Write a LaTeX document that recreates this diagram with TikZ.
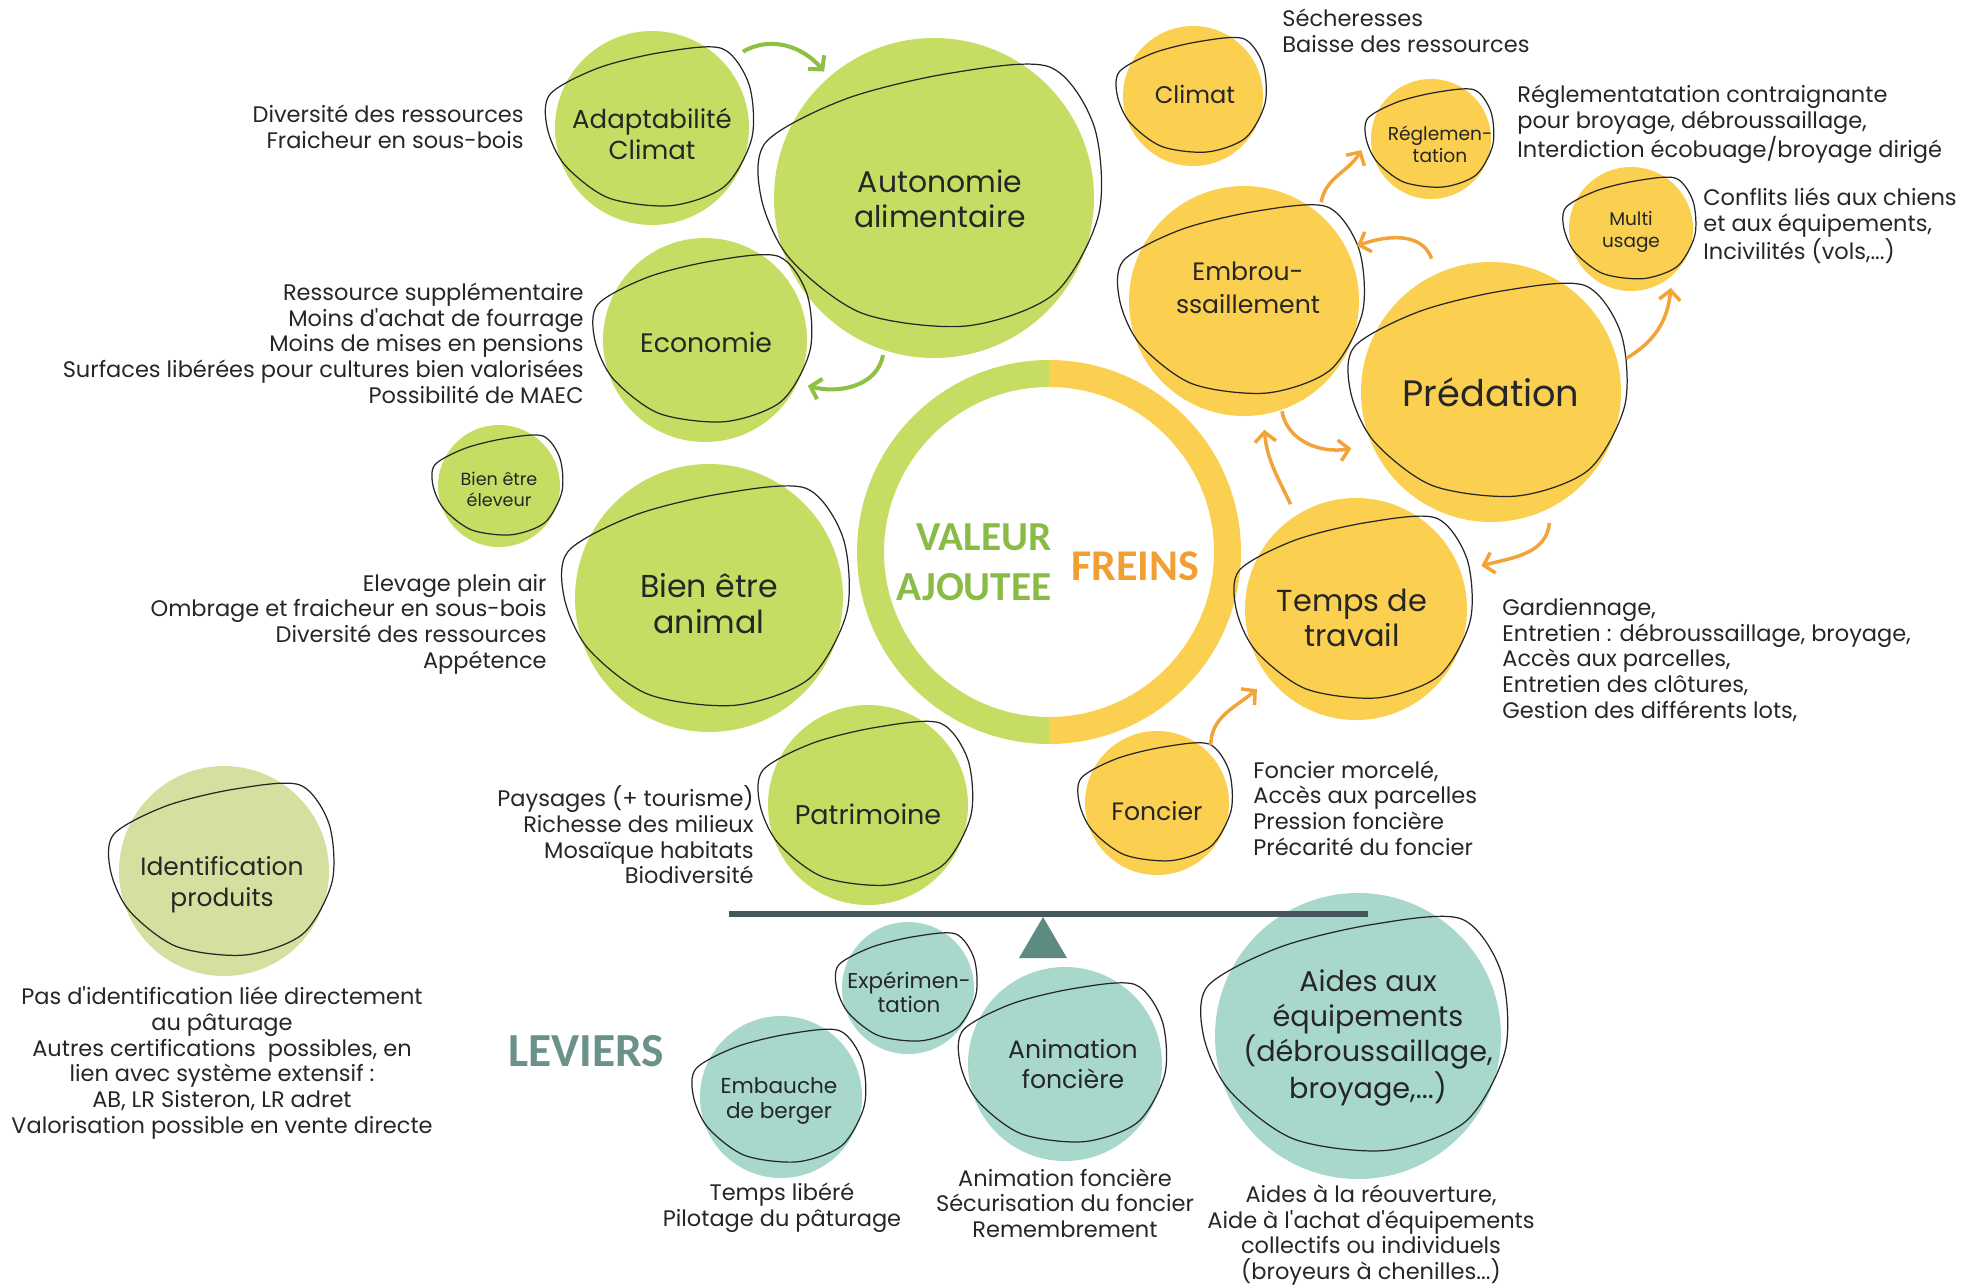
\documentclass[tikz,border=0pt]{standalone}
\usepackage{fontspec}
\setmainfont{Poppins}[Ligatures=TeXOff]
\newfontfamily\headfont{Carlito}
\usetikzlibrary{arrows.meta,calc}
\definecolor{gfill}{HTML}{C6DD63}
\definecolor{yfill}{HTML}{FBCF4F}
\definecolor{tfill}{HTML}{A7D8CB}
\definecolor{idfill}{HTML}{D4DFA0}
\definecolor{garr}{HTML}{8EC044}
\definecolor{oarr}{HTML}{F2A43A}
\definecolor{vtxt}{HTML}{8BBB47}
\definecolor{ftxt}{HTML}{EF9F33}
\definecolor{ltxt}{HTML}{6A918A}
\definecolor{barc}{HTML}{46585E}
\definecolor{tric}{HTML}{5E8B81}
\definecolor{txt}{HTML}{262626}
\newcommand\fsz[2]{\fontsize{#1}{#2}\selectfont}
\tikzset{
  outl/.style={draw=black!85, line width=0.7pt},
  bubble/.style={circle, inner sep=0pt},
  blabel/.style={align=center, text=txt, inner sep=0pt},
  lst/.style={text=txt, font=\fsz{12.8}{14.6}, inner sep=0pt},
  lstR/.style={lst, anchor=east, align=right},
  lstL/.style={lst, anchor=west, align=left},
  lstC/.style={lst, align=center},
  garrow/.style={draw=garr, line width=2.3pt, -{Straight Barb[length=5.5pt,width=12pt]}},
  oarrow/.style={draw=oarr, line width=2pt, -{Straight Barb[length=5.5pt,width=12pt]}},
  head/.style={inner sep=0pt},
}
% name, x, y, r, fill, fontsize, baselineskip, text offset (dx,dy), text
\newcommand\bub[9]{%
  \node[bubble, fill=#5, minimum size={2*#4*0.02cm}] (#1) at (#2,#3) {};
  \begin{scope}[shift={(#2,#3)}, scale=#4]
    \draw[outl] plot[smooth cycle] coordinates {(-1.05,-0.35) (-0.55,-0.62) (0.1,-0.78) (0.72,-0.82) (1.0,-0.45) (1.03,0.1) (0.75,0.6) (0.2,0.8) (-0.45,0.72) (-0.9,0.38) (-1.08,0.0)};
  \end{scope}
  \node[blabel, font=\fsz{#6}{#7}] (#1-t) at ($(#1.center)+(#8)$) {#9};}
\begin{document}
\begin{tikzpicture}[x=0.02cm, y=-0.02cm]
\useasboundingbox (0,0) rectangle (1981,1286);
% central ring
\coordinate (ring) at (1049,552);
\begin{scope}
  \clip (0,0) rectangle (1049,1286);
  \fill[gfill, even odd rule] (ring) circle[radius=192] (ring) circle[radius=165];
\end{scope}
\begin{scope}
  \clip (1049,0) rectangle (1981,1286);
  \fill[yfill, even odd rule] (ring) circle[radius=192] (ring) circle[radius=165];
\end{scope}
\node[head, font=\headfont\bfseries\fsz{23.5}{28.6}, text=vtxt, align=right, anchor=east] (valeur) at (1052,562) {VALEUR\\AJOUTEE};
\node[head, font=\headfont\bfseries\fsz{25}{30}, text=ftxt, anchor=base west] (freins) at (1071,580) {FREINS};
\node[head, font=\headfont\bfseries\fsz{27}{30}, text=ltxt, anchor=base west] (leviers) at (508,1066) {LEVIERS};

% green bubbles
\bub{adapt}{652}{128}{97}{gfill}{14.8}{17.5}{0,6}{Adaptabilité\\Climat}
\bub{auton}{934}{198}{160}{gfill}{17}{20}{6,1}{Autonomie\\alimentaire}
\bub{econ}{705}{340}{102}{gfill}{15.2}{17}{1,2}{Economie}
\bub{bee}{499}{486}{61}{gfill}{10}{12}{0,3}{Bien être\\éleveur}
\bub{bea}{709}{598}{134}{gfill}{18}{20.5}{0,6}{Bien être\\animal}
\bub{patr}{868}{805}{100}{gfill}{15.4}{17}{0,9}{Patrimoine}
\bub{ident}{224}{871}{105}{idfill}{14.2}{17.5}{-2,14}{Identification\\produits}
% yellow bubbles
\bub{climat}{1193}{96}{70}{yfill}{13.7}{16}{2,-2}{Climat}
\bub{regl}{1431}{139}{60}{yfill}{10.6}{12.5}{9,5}{Réglemen-\\tation}
\bub{embr}{1244}{301}{115}{yfill}{14.3}{19}{4,-13}{Embrou-\\ssaillement}
\bub{multi}{1631}{229}{62}{yfill}{10.5}{12.5}{0,3}{Multi\\usage}
\bub{pred}{1491}{392}{130}{yfill}{20.9}{23}{0,0}{Prédation}
\bub{temps}{1356}{609}{111}{yfill}{17.3}{19.8}{-4,9}{Temps de\\travail}
\bub{fonc}{1157}{803}{72}{yfill}{14.3}{16}{0,8}{Foncier}
% teal bubbles
\bub{exper}{908}{988}{66}{tfill}{12.2}{14}{1,4}{Expérimen-\\tation}
\bub{embau}{781}{1097}{81}{tfill}{12.3}{14.5}{-2,4}{Embauche\\de berger}
\bub{anim}{1065}{1064}{97}{tfill}{14.3}{17}{8,0}{Animation\\foncière}
\bub{aides}{1358}{1036}{143}{tfill}{16.3}{19.4}{10,2}{Aides aux\\équipements\\(débroussaillage,\\broyage,...)}

% balance
\coordinate (barL) at (729,914);
\coordinate (barR) at (1368,914);
\draw[barc, line width=3pt] (barL) -- (barR);
\fill[tric] (1043,917) -- (1067,958) -- (1019,958) -- cycle;

% lists
\node[lstR] (l1) at (524,127) {Diversité des ressources\\Fraicheur en sous-bois};
\node[lstR] (l2) at (584,343) {Ressource supplémentaire\\Moins d'achat de fourrage\\Moins de mises en pensions\\Surfaces libérées pour cultures bien valorisées\\Possibilité de MAEC};
\node[lstR] (l3) at (547,624) {Elevage plein air\\Ombrage et fraicheur en sous-bois\\Diversité des ressources\\Appétence};
\node[lstR] (l4) at (754,835) {Paysages (+ tourisme)\\Richesse des milieux\\Mosaïque habitats\\Biodiversité};
\node[lstL] (l5) at (1282,31) {Sécheresses\\Baisse des ressources};
\node[lstL] (l6) at (1517,124) {Réglementatation contraignante\\pour broyage, débroussaillage,\\Interdiction écobuage/broyage dirigé};
\node[lstL] (l7) at (1703,226) {Conflits liés aux chiens\\et aux équipements,\\Incivilités (vols,...)};
\node[lstL] (l8) at (1502,660) {Gardiennage,\\Entretien : débroussaillage, broyage,\\Accès aux parcelles,\\Entretien des clôtures,\\Gestion des différents lots,};
\node[lstL] (l9) at (1253,808) {Foncier morcelé,\\Accès aux parcelles\\Pression foncière\\Précarité du foncier};
\node[lstC] (l10) at (222,1063) {Pas d'identification liée directement\\au pâturage\\Autres certifications~ possibles, en\\lien avec système extensif :\\AB, LR Sisteron, LR adret\\Valorisation possible en vente directe};
\node[lstC] (l11) at (782,1208) {Temps libéré\\Pilotage du pâturage};
\node[lstC] (l12) at (1065,1203) {Animation foncière\\Sécurisation du foncier\\Remembrement};
\node[lstC] (l13) at (1371,1235) {Aides à la réouverture,\\Aide à l'achat d'équipements\\collectifs ou individuels\\(broyeurs à chenilles...)};

% arrows
\draw[garrow] ($(adapt.center)!1.22!(adapt.40)$) to[out=30,in=130] ($(auton.center)!1.045!(auton.131)$);
\draw[garrow] ($(auton.center)!1.03!(auton.252)$) to[out=-100,in=-15] ($(econ.center)!1.1!(econ.-24)$);
\draw[oarrow] ($(embr.center)!1.087!(embr.52.5)$) to[out=80,in=-120] ($(regl.center)!1.17!(regl.189)$);
\draw[oarrow] ($(pred.center)!1.12!(pred.114)$) to[out=110,in=20] ($(embr.center)!1.09!(embr.26.6)$);
\draw[oarrow] ($(pred.center)!1.07!(pred.14.5)$) to[out=30,in=-95] ($(multi.center)!1.14!(multi.-56.5)$);
\draw[oarrow] ($(embr.center)!1.01!(embr.-71)$) to[out=-80,in=190] ($(pred.center)!1.155!(pred.202)$);
\draw[oarrow] ($(temps.center)!1.11!(temps.122)$) to[out=115,in=-85] ($(embr.center)!1.13!(embr.-81.6)$);
\draw[oarrow] ($(pred.center)!1.1!(pred.-66.6)$) to[out=-95,in=15] ($(temps.center)!1.19!(temps.19)$);
\draw[oarrow] ($(fonc.center)!1.09!(fonc.47.6)$) to[out=90,in=-140] ($(temps.center)!1.145!(temps.-141)$);
\end{tikzpicture}
\end{document}
